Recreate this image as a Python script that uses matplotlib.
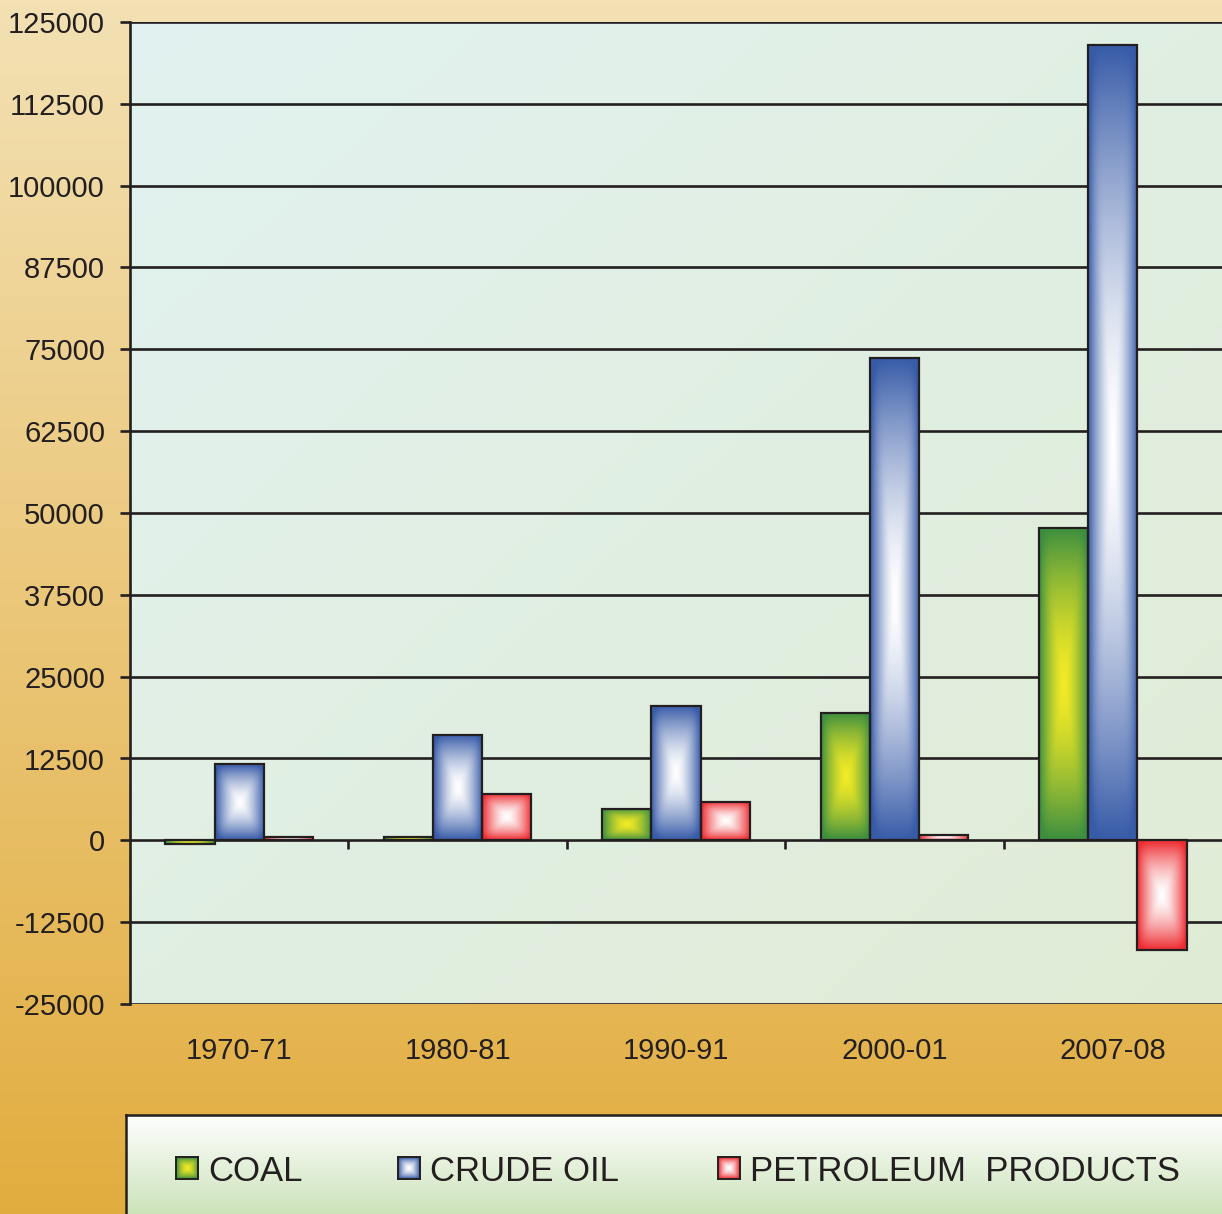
import numpy as np
import matplotlib
matplotlib.use("Agg")
import matplotlib.pyplot as plt

plt.rcParams['font.family'] = ['Liberation Sans', 'DejaVu Sans']

# data
years = ["1970-71", "1980-81", "1990-91", "2000-01", "2007-08"]
coal = [-600, 450, 4850, 19450, 47750]
crude_oil = [11600, 16050, 20550, 73700, 121500]
petroleum = [550, 7100, 5850, 800, -16800]
series_names = ["COAL", "CRUDE OIL", "PETROLEUM  PRODUCTS"]
y_ticks = np.arange(-25000, 125001, 12500)

# (edge colour, centre colour) of the box gradients
grad_colors = [
    ((0.24, 0.56, 0.25), (0.95, 0.92, 0.15)),
    ((0.22, 0.36, 0.66), (1.0, 1.0, 1.0)),
    ((0.93, 0.17, 0.19), (1.0, 1.0, 1.0)),
]
ink = "#231f20"


def box_gradient(edge, center, n=200, power=1.5):
    """rectangle gradient, centre colour in the middle fading to edge colour"""
    u = np.linspace(-1, 1, n)
    U, V = np.meshgrid(u, u)
    # soft max so the diagonal seams are not too hard
    d = (np.abs(U) ** 6 + np.abs(V) ** 6) ** (1 / 6)
    d = np.clip(d, 0, 1) ** power
    edge = np.array(edge)
    center = np.array(center)
    return center * (1 - d[..., None]) + edge * d[..., None]


def lin_gradient(c_top, c_bot, n=256):
    t = np.linspace(0, 1, n)[:, None, None]
    return np.array(c_top) * (1 - t) + np.array(c_bot) * t


W, H = 1222, 1214
fig = plt.figure(figsize=(W / 100, H / 100), dpi=100)

# figure background: cream -> gold
bg = fig.add_axes([0, 0, 1, 1], zorder=-10)
bg_img = lin_gradient((0.953, 0.882, 0.706), (0.886, 0.678, 0.247))
bg.imshow(bg_img, aspect='auto', extent=(0, 1, 0, 1), interpolation='bilinear')
bg.axis('off')

# main plot
ax = fig.add_axes([130 / W, 1 - 1004 / H, (W - 130) / W, (1004 - 22) / H])
ax.set_facecolor('none')

# plot area gradient (diagonal light cyan -> light green)
u = np.linspace(0, 1, 200)
X, Y = np.meshgrid(u, u)
t = np.clip((X + Y) / 2, 0, 1)[..., None]
c1 = np.array((0.886, 0.949, 0.941))
c2 = np.array((0.878, 0.925, 0.835))
ax.imshow(c1 * (1 - t) + c2 * t, extent=(0, 1, 0, 1), transform=ax.transAxes,
          aspect='auto', interpolation='bilinear', zorder=0)

x = np.arange(len(years))
bw = 0.225
all_series = [coal, crude_oil, petroleum]
for i, vals in enumerate(all_series):
    bars = ax.bar(x + (i - 1) * bw, vals, bw, facecolor='none', edgecolor=ink,
                  linewidth=1.6, zorder=4)
    img = box_gradient(*grad_colors[i])
    for p in bars.patches:
        x0, y0 = p.get_xy()
        ax.imshow(img, extent=(x0, x0 + p.get_width(), y0, y0 + p.get_height()),
                  aspect='auto', interpolation='bilinear', zorder=3)

ax.set_xlim(-0.5, len(years) - 0.5)
ax.set_ylim(-25000, 125000)
ax.set_yticks(y_ticks)
ax.set_yticklabels([str(v) for v in y_ticks])
ax.yaxis.grid(True, color=ink, linewidth=1.9)
ax.set_axisbelow(True)
for s in ['top', 'right', 'bottom']:
    ax.spines[s].set_visible(False)
ax.spines['left'].set_linewidth(1.9)
ax.spines['left'].set_color(ink)
ax.tick_params(axis='y', length=7, width=1.9, color=ink, pad=11,
               labelsize=21, labelcolor=ink)
ax.set_xticks(x)
ax.set_xticklabels(years)
ax.tick_params(axis='x', length=0, pad=24, labelsize=21, labelcolor=ink)

# group separator ticks hanging below the zero line
ax.vlines(x[:-1] + 0.5, -1250, 0, color=ink, linewidth=1.9, zorder=2)

# legend strip at the bottom
lg = fig.add_axes([126 / W, 0, (W - 126) / W + 0.01, (H - 1115) / H])
lg.imshow(lin_gradient((1.0, 1.0, 1.0), (0.80, 0.89, 0.73)), aspect='auto',
          extent=(0, 1, 0, 1), interpolation='bilinear', transform=lg.transAxes)
lg.set_xlim(0, 1)
lg.set_ylim(0, 1)
lg.set_xticks([])
lg.set_yticks([])
for s in ['right', 'bottom']:
    lg.spines[s].set_visible(False)
for s in ['left', 'top']:
    lg.spines[s].set_linewidth(1.8)
    lg.spines[s].set_color(ink)

sq_x = [176, 398, 718]
sq = 22
yc = 1168
for i, name in enumerate(series_names):
    fx0 = sq_x[i] / W
    fy0 = 1 - (yc + sq / 2) / H
    sax = fig.add_axes([fx0, fy0, sq / W, sq / H])
    sax.imshow(box_gradient(*grad_colors[i], n=40), aspect='auto',
               extent=(0, 1, 0, 1), interpolation='bilinear')
    sax.set_xticks([])
    sax.set_yticks([])
    for s in sax.spines.values():
        s.set_linewidth(1.4)
        s.set_color(ink)
    fig.text((sq_x[i] + 32) / W, 1 - yc / H, name, fontsize=25, color=ink,
             ha='left', va='center_baseline')

fig.savefig("out.png", dpi=100)
